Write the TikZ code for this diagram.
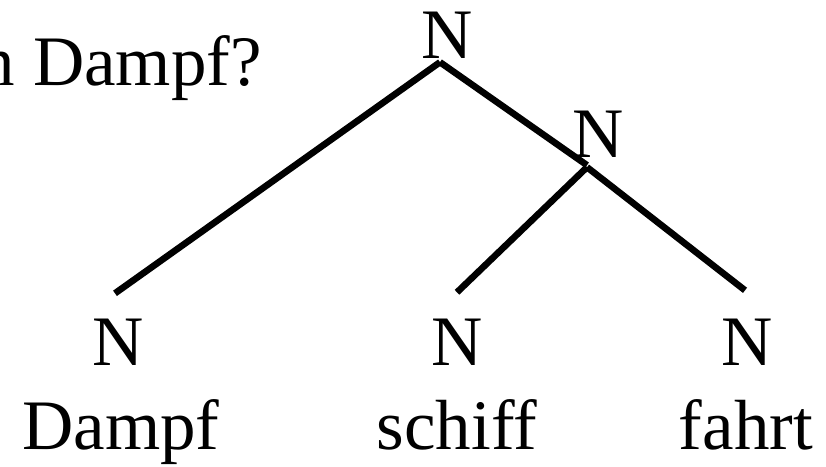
\documentclass[tikz,border=0pt]{standalone}
\usepackage{fontspec}
\setmainfont{Liberation Serif}
\usetikzlibrary{positioning,calc}

\begin{document}
\begin{tikzpicture}[x=1pt,y=-1pt,
  cat/.style={font=\fontsize{71}{80}\selectfont,inner sep=0pt,anchor=base},
  word/.style={cat},
  branch/.style={line width=6.6pt,draw=black}]

  \useasboundingbox (0,0) rectangle (826,466);

  \node[word,anchor=base east] (quest) at (262,85) {n Dampf?};

  \node[cat] (nTop) at (447,58)  {N};
  \node[cat] (nMid) at (598,157) {N};
  \node[cat] (nL)   at (118,365) {N};
  \node[cat] (nC)   at (457,365) {N};
  \node[cat] (nR)   at (747,365) {N};

  \node[word] (wL) at (121,449) {Dampf};
  \node[word] (wC) at (457,449) {schiff};
  \node[word] (wR) at (746,449) {fahrt};

  \draw[branch] ([xshift=-7pt,yshift=-4pt]nTop.south) -- ([xshift=-3pt,yshift=25pt]nL.north);
  \draw[branch] ([xshift=-7pt,yshift=-4pt]nTop.south) -- ([xshift=-11pt,yshift=-8pt]nMid.south);
  \draw[branch] ([xshift=-11pt,yshift=-10pt]nMid.south) -- ([yshift=26pt]nC.north);
  \draw[branch] ([xshift=-11pt,yshift=-10pt]nMid.south) -- ([xshift=-2pt,yshift=28pt]nR.north);
\end{tikzpicture}
\end{document}
